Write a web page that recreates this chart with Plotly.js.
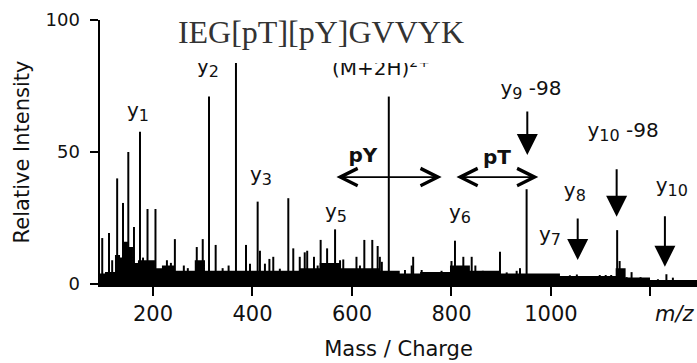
<!DOCTYPE html>
<html>
<head>
<meta charset="utf-8">
<script src="https://cdn.plot.ly/plotly-3.0.1.min.js"></script>
<style>html,body{margin:0;padding:0;background:#fff;}#chart{width:697px;height:363px;}</style>
</head>
<body>
<div id="chart"></div>
<script>
// ---- Data ----
// major fragment peaks (m/z, relative intensity %)
const peakMz = [98, 111.6, 128, 139.7, 150.4, 161.8, 173.9, 189, 205, 244, 288, 300, 312.6, 326,
  366.8, 387, 410.4, 415, 441.8, 472, 482, 495, 510, 523.6, 537, 550, 566, 582.5,
  596, 609, 624.8, 640.8, 651.6, 656, 674, 706.5, 723, 740, 800, 807, 823.8, 840.6,
  897.5, 937.7, 951, 1133, 1138, 1162, 1232];
const peakIntensity = [17.4, 19.3, 40, 30.7, 50, 21.6, 57.7, 28.4, 28.4, 17, 14, 17, 71, 14.8,
  100, 14.8, 31.2, 12.6, 10.3, 32.5, 13.5, 10.3, 12.6, 10.3, 16.7, 13.5, 20.7, 9.3,
  5.3, 10.3, 16.7, 16.7, 14.4, 10.3, 71, 5.3, 10.3, 5.3, 8.7, 16.4, 10.3, 10.3,
  12.2, 6, 35.9, 20.4, 8.7, 4.5, 3.7];
// minor peaks above the chemical noise
const minorMz = [118, 145, 180, 196, 228, 236, 262, 270, 296, 340, 352, 395, 425, 434, 455, 505, 531, 576,
  616, 632, 660, 690, 720, 760, 780, 817, 830.5, 848, 863, 880, 911, 931, 974, 998, 1021, 1038, 1052,
  1068, 1086, 1098, 1110, 1121, 1152, 1180, 1215, 1245, 1262, 1280];
const minorIntensity = [9, 12, 10, 8, 9, 8, 7, 6, 8, 6, 7, 7.7, 7.7, 9.5, 5.8, 12, 7, 9,
  7, 5, 8.4, 4, 7, 4, 5, 6, 6, 7, 5, 4.5, 4.4, 5, 3.5, 2.3, 2.3, 3.3, 3.6,
  2.3, 2.3, 3.4, 3.4, 3.4, 2.6, 2.6, 1.8, 2.4, 1.5, 1.2];
// chemical noise level (step envelope)
const noiseMz = [93.5, 103.5, 123.6, 133.7, 140, 149.7, 159.8, 169.8, 204, 218, 244, 284, 304.5, 344.7,
  395, 445, 495, 535, 576, 616, 656, 696, 737, 797, 837, 897, 958, 1018, 1098, 1130, 1150, 1199, 1250, 1293.5];
const noiseLevel = [4, 4.5, 11, 10, 16, 14, 8, 9, 6, 7, 5, 9, 5, 5,
  5, 5, 6, 8, 6, 6, 5, 4, 4.5, 7, 5, 4, 4, 3, 3, 6, 2.5, 1.5, 1.5, 1];

// ion labels
const sub = s => '<sub><span style="font-size:16px">' + s + '</span></sub>';
const labelText = ['y' + sub('1'), 'y' + sub('2'), '(M+2H)<sup>2+</sup>', 'y' + sub('3'), 'y' + sub('5'),
  'y' + sub('6'), 'y' + sub('7'), 'y' + sub('8'), 'y' + sub('10'), 'y' + sub('9') + ' -98', 'y' + sub('10') + ' -98',
  '<b>pY</b>', '<b>pT</b>'];
const labelMz = [169.8, 310.6, 658.3, 417, 567.8, 817, 998, 1048, 1243, 959.8, 1144.8, 622, 891.5];
const labelIntensity = [65.2, 82, 81, 40.9, 26.9, 26.5, 18.2, 34.8, 36.7, 73.5, 57.6, 48.1, 47.3];

// downward arrows marking ions (tip position, shaft length in px)
const arrowMz = [952.4, 1132, 1053.7, 1229];
const arrowIntensity = [48.9, 25.5, 9.1, 6.55];
const arrowShaft = [45, 49, 43, 52];

// neutral-loss spans (pY, pT)
const spanStart = [565.8, 807];
const spanEnd = [780.3, 974.5];
const spanLevel = [40.5, 40.5];

const xTickVals = [200, 400, 600, 800, 1000, 1200];
const xTickText = ['200', '400', '600', '800', '1000', ''];
const yTickVals = [0, 50, 100];

// ---- Traces ----
const sans = 'DejaVu Sans, Arial, sans-serif';
const traces = [
  {type: 'scatter', x: noiseMz, y: noiseLevel, mode: 'lines', line: {width: 0, shape: 'hv'},
   fill: 'tozeroy', fillcolor: '#000', hoverinfo: 'skip', showlegend: false},
  {type: 'bar', x: minorMz, y: minorIntensity, width: 4, marker: {color: '#000', line: {width: 0}}, showlegend: false},
  {type: 'bar', x: peakMz, y: peakIntensity, width: 4, marker: {color: '#000', line: {width: 0}}, showlegend: false},
  {type: 'scatter', mode: 'text', x: labelMz, y: labelIntensity, text: labelText,
   textposition: 'middle center', textfont: {family: sans, size: 20, color: '#111'}, showlegend: false, hoverinfo: 'skip'}
];

const annotations = [];
arrowMz.forEach((m, i) => {
  annotations.push({x: m, y: arrowIntensity[i], xref: 'x', yref: 'y', ax: 0, ay: -arrowShaft[i],
    showarrow: true, arrowhead: 2, arrowsize: 2.1, arrowwidth: 2, arrowcolor: '#000', text: '', standoff: 0});
});
spanStart.forEach((s, i) => {
  annotations.push({x: spanEnd[i], y: spanLevel[i], xref: 'x', yref: 'y', ax: s, ay: spanLevel[i],
    axref: 'x', ayref: 'y', showarrow: true, arrowhead: 5, startarrowhead: 5, arrowside: 'end+start',
    arrowsize: 1.9, startarrowsize: 1.9, arrowwidth: 1.8, arrowcolor: '#000', text: ''});
});
annotations.push({text: '<i>m/z</i>', xref: 'paper', yref: 'paper', x: 1, y: -0.1136, xanchor: 'right',
  yanchor: 'middle', showarrow: false, font: {family: sans, size: 21, color: '#111'}});

const layout = {
  width: 697, height: 363,
  margin: {l: 100, r: 0, t: 20, b: 79},
  paper_bgcolor: '#fff', plot_bgcolor: '#fff',
  showlegend: false,
  barmode: 'overlay',
  title: {text: 'IEG[pT][pY]GVVYK', x: 0.4605, xanchor: 'center', y: 0.912, yanchor: 'middle',
    font: {family: 'Liberation Serif, Times New Roman, serif', size: 32, color: '#333'}},
  xaxis: {range: [93.5, 1293.5], tickvals: xTickVals, ticktext: xTickText, ticks: 'outside', ticklen: 9,
    tickwidth: 2, tickcolor: '#000', showline: true, linecolor: '#000', linewidth: 2.5, showgrid: false,
    zeroline: false, tickfont: {family: sans, size: 21, color: '#111'},
    title: {text: 'Mass / Charge', font: {family: sans, size: 21, color: '#111'}, standoff: 17}},
  yaxis: {range: [0, 100], tickvals: yTickVals, ticks: 'outside', ticklen: 8, tickwidth: 2, tickcolor: '#000',
    showline: true, linecolor: '#000', linewidth: 2.5, showgrid: false, zeroline: false, ticklabelstandoff: 6,
    tickfont: {family: sans, size: 18, color: '#111'},
    title: {text: 'Relative Intensity', font: {family: sans, size: 21, color: '#111'}, standoff: 10}},
  shapes: [{type: 'rect', xref: 'paper', yref: 'paper', x0: 0.005, x1: 1.01, y0: 0.837, y1: 1.12,
    fillcolor: '#fff', line: {width: 0}, layer: 'above'}],
  annotations: annotations
};

Plotly.newPlot('chart', traces, layout, {displayModeBar: false, staticPlot: true});
</script>
</body>
</html>
